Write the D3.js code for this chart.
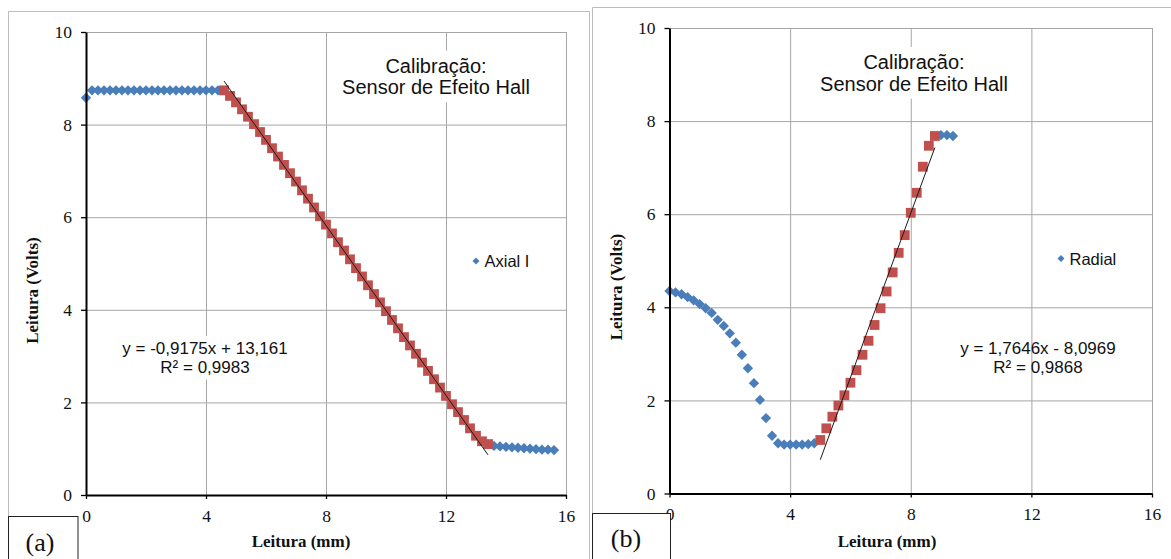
<!DOCTYPE html>
<html>
<head>
<meta charset="utf-8">
<script src="https://cdn.jsdelivr.net/npm/d3@7"></script>
<style>
  body { margin: 0; background: #fff; }
  svg { display: block; }
</style>
</head>
<body>
<svg id="chart" width="1171" height="559"></svg>
<script>
// ---------- data: Hall-effect sensor calibration ----------
// Axial I: reading (V) vs displacement (mm)
const axialPlateauX = [0, 0.2, 0.4, 0.6, 0.8, 1.0, 1.2, 1.4, 1.6, 1.8, 2.0, 2.2, 2.4, 2.6, 2.8, 3.0, 3.2, 3.4, 3.6, 3.8, 4.0, 4.2, 4.4];
const axialPlateauY = [8.58, 8.74, 8.74, 8.74, 8.74, 8.74, 8.74, 8.74, 8.74, 8.74, 8.74, 8.74, 8.74, 8.74, 8.74, 8.74, 8.74, 8.74, 8.74, 8.74, 8.74, 8.74, 8.74];
const axialLinearX = [4.6, 4.8, 5.0, 5.2, 5.4, 5.6, 5.8, 6.0, 6.2, 6.4, 6.6, 6.8, 7.0, 7.2, 7.4, 7.6, 7.8, 8.0, 8.2, 8.4, 8.6, 8.8, 9.0, 9.2, 9.4, 9.6, 9.8, 10.0, 10.2, 10.4, 10.6, 10.8, 11.0, 11.2, 11.4, 11.6, 11.8, 12.0, 12.2, 12.4, 12.6, 12.8, 13.0, 13.2, 13.4];
const axialLinearY = [8.74, 8.62, 8.48, 8.33, 8.17, 8.01, 7.84, 7.67, 7.49, 7.31, 7.13, 6.95, 6.77, 6.58, 6.40, 6.21, 6.02, 5.84, 5.65, 5.46, 5.28, 5.09, 4.90, 4.72, 4.53, 4.34, 4.16, 3.97, 3.78, 3.60, 3.41, 3.23, 3.05, 2.86, 2.68, 2.50, 2.32, 2.14, 1.96, 1.79, 1.62, 1.44, 1.28, 1.16, 1.10];
const axialTailX = [13.6, 13.8, 14.0, 14.2, 14.4, 14.6, 14.8, 15.0, 15.2, 15.4, 15.6];
const axialTailY = [1.06, 1.05, 1.04, 1.03, 1.02, 1.01, 1.00, 0.99, 0.98, 0.98, 0.97];
const axialSlope = -0.9175;
const axialIntercept = 13.161;
const axialR2 = 0.9983;

// Radial: reading (V) vs displacement (mm)
const radialCurveX = [0, 0.2, 0.4, 0.6, 0.8, 1.0, 1.2, 1.4, 1.6, 1.8, 2.0, 2.2, 2.4, 2.6, 2.8, 3.0, 3.2, 3.4, 3.6, 3.8, 4.0, 4.2, 4.4, 4.6, 4.8];
const radialCurveY = [4.35, 4.32, 4.28, 4.22, 4.15, 4.07, 3.98, 3.88, 3.73, 3.60, 3.44, 3.24, 2.98, 2.69, 2.37, 2.01, 1.62, 1.24, 1.08, 1.05, 1.05, 1.05, 1.05, 1.06, 1.08];
const radialLinearX = [5.0, 5.2, 5.4, 5.6, 5.8, 6.0, 6.2, 6.4, 6.6, 6.8, 7.0, 7.2, 7.4, 7.6, 7.8, 8.0, 8.2, 8.4, 8.6, 8.8];
const radialLinearY = [1.15, 1.40, 1.65, 1.89, 2.11, 2.38, 2.65, 2.98, 3.28, 3.62, 3.98, 4.34, 4.75, 5.17, 5.55, 6.03, 6.46, 7.02, 7.47, 7.68];
const radialTailX = [9.0, 9.2, 9.4];
const radialTailY = [7.70, 7.70, 7.68];
const radialSlope = 1.7646;
const radialIntercept = -8.0969;
const radialR2 = 0.9868;

// axes
const xTicks = [0, 4, 8, 12, 16];
const yTicks = [0, 2, 4, 6, 8, 10];
const xDomain = [0, 16];
const yDomain = [0, 10];

const titleLines = ["Calibração:", "Sensor de Efeito Hall"];
const xAxisTitle = "Leitura (mm)";
const yAxisTitle = "Leitura (Volts)";

// ---------- styling ----------
const BLUE = "#4A7EBB";
const RED = "#C0504D";
const GRID = "#a6a6a6";
const SANS = "'Liberation Sans', Arial, sans-serif";
const SERIF = "'Liberation Serif', 'Times New Roman', serif";

const zip = (xs, ys) => xs.map((x, i) => ({ x, y: ys[i] }));
const dec = v => String(Math.abs(v)).replace(".", ",");
const eqText = (m, b) => `y = ${m < 0 ? "-" : ""}${dec(m)}x ${b < 0 ? "-" : "+"} ${dec(b)}`;

const svg = d3.select("#chart");

const panels = [
  {
    frame: "M8.5,560 V11.5 H589.5 V560",
    plot: { l: 86, r: 566, t: 32, b: 495 },
    blue: [zip(axialPlateauX, axialPlateauY), zip(axialTailX, axialTailY)],
    red: zip(axialLinearX, axialLinearY),
    slope: axialSlope, intercept: axialIntercept, r2: axialR2,
    legend: "Axial I", legendX: 476, legendY: 261,
    titleX: 436, titleY: 72.5,
    eqX: 205, eqY: 354, eqBg: true,
    xTitleX: 301, xTitleY: 547,
    yTitleX: 38, yTitleY: 290.5,
    tag: "(a)", tagBox: { x: 8.5, y: 516.5, w: 69.5 }, tagX: 40, tagY: 551
  },
  {
    frame: "M592.5,560 V7.5 H1172",
    plot: { l: 669.5, r: 1152, t: 28, b: 493.5 },
    blue: [zip(radialCurveX, radialCurveY), zip(radialTailX, radialTailY)],
    red: zip(radialLinearX, radialLinearY),
    slope: radialSlope, intercept: radialIntercept, r2: radialR2,
    legend: "Radial", legendX: 1061, legendY: 258.5,
    titleX: 914, titleY: 69,
    eqX: 1038, eqY: 354, eqBg: false,
    xTitleX: 887, xTitleY: 547,
    yTitleX: 622, yTitleY: 287,
    tag: "(b)", tagBox: { x: 592.5, y: 513.5, w: 78 }, tagX: 626, tagY: 547
  }
];

const diamond = d3.symbol().type(d3.symbolDiamond2).size(68);
const legendDiamond = d3.symbol().type(d3.symbolDiamond2).size(32);
const square = d3.symbol().type(d3.symbolSquare).size(96);

panels.forEach(p => {
  const x = d3.scaleLinear().domain(xDomain).range([p.plot.l, p.plot.r]);
  const y = d3.scaleLinear().domain(yDomain).range([p.plot.b, p.plot.t]);
  const g = svg.append("g");

  // outer chart frame
  g.append("path").attr("d", p.frame)
    .attr("fill", "none").attr("stroke", "#bdbdbd").attr("stroke-width", 1);

  // gridlines
  const gy = g.append("g").attr("transform", `translate(${p.plot.l},0)`)
    .call(d3.axisLeft(y).tickValues(yTicks.filter(v => v > 0))
      .tickSize(-(p.plot.r - p.plot.l)).tickFormat(""));
  gy.select(".domain").remove();
  gy.selectAll("line").attr("stroke", GRID).attr("stroke-width", 1);

  const gx = g.append("g").attr("transform", `translate(0,${p.plot.b})`)
    .call(d3.axisBottom(x).tickValues(xTicks.filter(v => v > 0))
      .tickSize(-(p.plot.b - p.plot.t)).tickFormat(""));
  gx.select(".domain").remove();
  gx.selectAll("line").attr("stroke", GRID).attr("stroke-width", 1);

  // chart title with white backing
  const tg = g.append("g");
  const tt = tg.append("text")
    .attr("x", p.titleX).attr("y", p.titleY)
    .attr("text-anchor", "middle")
    .attr("font-family", SANS).attr("font-size", 20).attr("fill", "#111");
  titleLines.forEach((s, i) => {
    tt.append("tspan").attr("x", p.titleX).attr("dy", i === 0 ? 0 : 21.7).text(s);
  });
  const tb = tt.node().getBBox();
  tg.insert("rect", "text")
    .attr("x", tb.x - 5).attr("y", tb.y - 4)
    .attr("width", tb.width + 10).attr("height", tb.height + 8)
    .attr("fill", "#fff");

  // data markers
  p.blue.forEach(seg => {
    g.append("g").selectAll("path").data(seg).join("path")
      .attr("d", diamond)
      .attr("transform", d => `translate(${x(d.x)},${y(d.y)})`)
      .attr("fill", BLUE);
  });
  g.append("g").selectAll("path").data(p.red).join("path")
    .attr("d", square)
    .attr("transform", d => `translate(${x(d.x)},${y(d.y)})`)
    .attr("fill", RED);

  // linear trendline over the fitted range
  const x0 = d3.min(p.red, d => d.x), x1 = d3.max(p.red, d => d.x);
  const fit = [x0, x1].map(v => ({ x: v, y: p.slope * v + p.intercept }));
  g.append("path")
    .attr("d", d3.line().x(d => x(d.x)).y(d => y(d.y))(fit))
    .attr("fill", "none").attr("stroke", "#1a1a1a").attr("stroke-width", 1);

  // trendline equation
  const eg = g.append("g");
  const et = eg.append("text")
    .attr("text-anchor", "middle")
    .attr("font-family", SANS).attr("font-size", 17).attr("fill", "#111");
  et.append("tspan").attr("x", p.eqX).attr("y", p.eqY).text(eqText(p.slope, p.intercept));
  et.append("tspan").attr("x", p.eqX).attr("y", p.eqY + 18.5).text(`R² = ${dec(p.r2)}`);
  if (p.eqBg) {
    const eb = et.node().getBBox();
    eg.insert("rect", "text")
      .attr("x", eb.x - 4).attr("y", eb.y - 3)
      .attr("width", eb.width + 8).attr("height", eb.height + 6)
      .attr("fill", "#fff");
  }

  // legend
  g.append("path").attr("d", legendDiamond)
    .attr("transform", `translate(${p.legendX},${p.legendY})`).attr("fill", BLUE);
  g.append("text").attr("x", p.legendX + 8.5).attr("y", p.legendY + 6)
    .attr("font-family", SANS).attr("font-size", 16.5).attr("fill", "#111")
    .text(p.legend);

  // axes
  const ay = g.append("g").attr("transform", `translate(${p.plot.l},0)`)
    .call(d3.axisLeft(y).tickValues(yTicks).tickSize(5).tickSizeOuter(0).tickPadding(9));
  const ax = g.append("g").attr("transform", `translate(0,${p.plot.b})`)
    .call(d3.axisBottom(x).tickValues(xTicks).tickSize(4).tickSizeOuter(0));
  [ay, ax].forEach(a => {
    a.select(".domain").attr("stroke", "#000").attr("stroke-width", 2);
    a.selectAll(".tick line").attr("stroke", "#000").attr("stroke-width", 1.3);
    a.selectAll("text").attr("font-family", SERIF).attr("font-size", 17.5).attr("fill", "#111");
  });
  ax.selectAll("text").attr("dy", null).attr("y", 26.5);

  // axis titles
  g.append("text").attr("x", p.xTitleX).attr("y", p.xTitleY)
    .attr("text-anchor", "middle")
    .attr("font-family", SERIF).attr("font-weight", "bold").attr("font-size", 17)
    .attr("fill", "#111").text(xAxisTitle);
  g.append("text")
    .attr("transform", `translate(${p.yTitleX},${p.yTitleY}) rotate(-90)`)
    .attr("text-anchor", "middle")
    .attr("font-family", SERIF).attr("font-weight", "bold").attr("font-size", 17)
    .attr("fill", "#111").text(yAxisTitle);

  // panel tag box
  g.append("rect")
    .attr("x", p.tagBox.x).attr("y", p.tagBox.y)
    .attr("width", p.tagBox.w).attr("height", 60)
    .attr("fill", "#fff").attr("stroke", "#222").attr("stroke-width", 1);
  g.append("text").attr("x", p.tagX).attr("y", p.tagY)
    .attr("text-anchor", "middle")
    .attr("font-family", SERIF).attr("font-size", 26).attr("fill", "#111")
    .text(p.tag);
});
</script>
</body>
</html>
